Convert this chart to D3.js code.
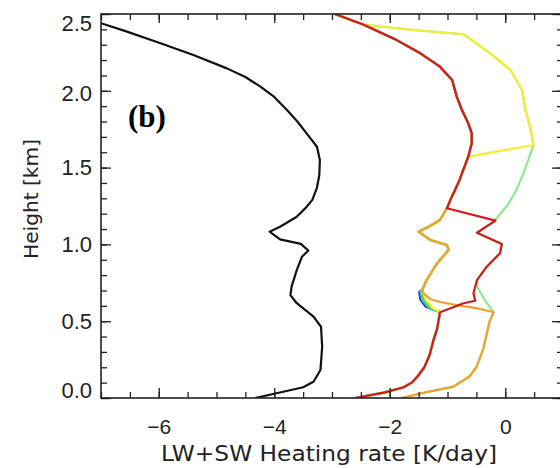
<!DOCTYPE html>
<html>
<head>
<meta charset="utf-8">
<script src="https://cdn.jsdelivr.net/npm/d3@7"></script>
<style>
  body { margin: 0; background: #fff; }
  svg { display: block; font-family: 'DejaVu Sans', sans-serif; }
</style>
</head>
<body>
<svg id="chart" width="560" height="468"></svg>
<script>
// points are [heating rate K/day, height km]

// total heating profile (black)
const blackProfile = [
  [-7.0, 2.44], [-6.55, 2.385], [-5.97, 2.31], [-5.40, 2.233], [-4.82, 2.146],
  [-4.50, 2.09], [-4.24, 2.027], [-4.0, 1.96], [-3.78, 1.875], [-3.60, 1.80],
  [-3.44, 1.723], [-3.26, 1.636], [-3.21, 1.55], [-3.22, 1.45], [-3.26, 1.37],
  [-3.34, 1.29], [-3.45, 1.24], [-3.61, 1.18], [-3.90, 1.115], [-4.08, 1.083],
  [-3.90, 1.033], [-3.54, 1.003], [-3.41, 0.96], [-3.52, 0.92], [-3.61, 0.833],
  [-3.70, 0.725], [-3.72, 0.67], [-3.61, 0.617], [-3.32, 0.53], [-3.19, 0.464],
  [-3.17, 0.334], [-3.20, 0.182], [-3.32, 0.106], [-3.50, 0.07], [-3.96, 0.031],
  [-4.33, 0.0]
]

// pieces shared by the coloured profiles
const upperPath = [
  [-2.95, 2.5], [-2.45, 2.43], [-1.88, 2.33], [-1.47, 2.244], [-1.13, 2.157],
  [-0.92, 2.07], [-0.84, 1.962], [-0.75, 1.875], [-0.64, 1.788], [-0.58, 1.723],
  [-0.58, 1.658], [-0.64, 1.571], [-0.75, 1.463], [-0.79, 1.42], [-0.87, 1.354],
  [-0.95, 1.29], [-1.01, 1.235]
]
const yellowArc = [
  [-1.59, 2.396], [-0.72, 2.368], [-0.26, 2.244], [0.09, 2.135], [0.29, 2.005],
  [0.35, 1.875], [0.43, 1.766], [0.49, 1.647]
]
const greenDescent = [[0.40, 1.55], [0.30, 1.45], [0.20, 1.36], [0.05, 1.26], [-0.17, 1.16]]
const rightZigzag = [
  [-0.17, 1.155], [-0.49, 1.076], [-0.06, 1.003], [-0.09, 0.942], [-0.32, 0.855], [-0.49, 0.768]
]
const redLink = [[-0.55, 0.682], [-0.52, 0.633], [-0.72, 0.617]]
const greenLink = [[-0.48, 0.72], [-0.36, 0.64]]
const leftZigzag = [
  [-1.13, 1.159], [-1.33, 1.115], [-1.50, 1.083], [-1.30, 1.029], [-1.01, 0.996],
  [-0.98, 0.964], [-1.18, 0.877], [-1.36, 0.768], [-1.44, 0.703]
]
const blueFan = [[-1.49, 0.69], [-1.47, 0.64], [-1.38, 0.595]]
const cyanFan = [[-1.47, 0.69], [-1.43, 0.635], [-1.33, 0.59]]
const limeFan = [[-1.45, 0.69], [-1.40, 0.635], [-1.29, 0.588]]
const yellowFan = [[-1.43, 0.69], [-1.37, 0.635], [-1.25, 0.585]]
const orangeBranch = [[-1.41, 0.68], [-1.30, 0.645], [-1.13, 0.625], [-0.84, 0.605], [-0.5, 0.585]]
const lowerLeft = [
  [-1.13, 0.558], [-1.18, 0.45], [-1.24, 0.38], [-1.31, 0.28], [-1.40, 0.20],
  [-1.52, 0.14], [-1.62, 0.10], [-1.76, 0.07], [-2.1, 0.035], [-2.6, 0.0]
]
const lowerRight = [
  [-0.2, 0.558], [-0.27, 0.50], [-0.33, 0.40], [-0.38, 0.32], [-0.5, 0.2],
  [-0.62, 0.14], [-0.9, 0.074], [-1.4, 0.035], [-1.8, 0.0]
]

const xMajorTicks = [-6, -4, -2, 0]
const yMajorTicks = [0, 0.5, 1.0, 1.5, 2.0, 2.5]

// profiles, drawn bottom to top
const profiles = [
  { color: '#2440c8', points: [...upperPath, ...leftZigzag, ...blueFan, ...lowerLeft] },
  { color: '#38c4e6', points: [...upperPath, ...leftZigzag, ...cyanFan, ...lowerLeft] },
  { color: '#5fd04a', points: [...upperPath, ...leftZigzag, ...limeFan, ...lowerLeft] },
  { color: '#8fe890', points: [...upperPath.slice(0, 2), ...yellowArc, ...greenDescent, ...rightZigzag, ...greenLink, ...lowerRight] },
  { color: '#f4ee2c', points: [...upperPath.slice(0, 2), ...yellowArc, ...upperPath.slice(11), ...leftZigzag, ...yellowFan, ...lowerLeft] },
  { color: '#f0a230', points: [...upperPath, ...leftZigzag, ...orangeBranch, ...lowerRight] },
  { color: '#cf1d1d', points: [...upperPath, ...rightZigzag, ...redLink, ...lowerLeft] }
]

const svg = d3.select('#chart')
const plotLeft = 101
const plotRight = 563
const plotTop = 14
const plotBottom = 398

const x = d3.scaleLinear().domain([-7, 1]).range([plotLeft, plotRight])
const y = d3.scaleLinear().domain([0, 2.5]).range([plotBottom, plotTop])

svg.append('defs').append('clipPath').attr('id', 'plot')
  .append('rect')
  .attr('x', plotLeft).attr('y', plotTop)
  .attr('width', plotRight - plotLeft).attr('height', plotBottom - plotTop)

const line = d3.line().x(d => x(d[0])).y(d => y(d[1]))

const lines = svg.append('g').attr('clip-path', 'url(#plot)')

lines.append('path')
  .datum(blackProfile)
  .attr('d', line)
  .attr('fill', 'none')
  .attr('stroke', '#111')
  .attr('stroke-width', 2.2)
  .attr('stroke-linejoin', 'round')

lines.selectAll('.profile')
  .data(profiles)
  .enter().append('path')
  .attr('class', 'profile')
  .attr('d', d => line(d.points))
  .attr('fill', 'none')
  .attr('stroke', d => d.color)
  .attr('stroke-width', 2.2)
  .attr('stroke-linejoin', 'round')

// axes: ticks point inward
const xMinor = d3.range(-7, 1.01, 0.5)
const yMinor = d3.range(0, 2.51, 0.1)

function addAxis (axis, transform, cls) {
  const g = svg.append('g').attr('class', cls).attr('transform', transform).call(axis)
  g.select('.domain').remove()
  g.selectAll('line').attr('stroke', '#222').attr('stroke-width', 1.3)
  return g
}

addAxis(d3.axisBottom(x).tickValues(xMinor).tickSize(-6).tickFormat(''), `translate(0,${plotBottom})`, 'xminor')
addAxis(d3.axisTop(x).tickValues(xMinor).tickSize(-6).tickFormat(''), `translate(0,${plotTop})`, 'xminor-top')
addAxis(d3.axisTop(x).tickValues(xMajorTicks).tickSize(-9).tickFormat(''), `translate(0,${plotTop})`, 'xmajor-top')
addAxis(d3.axisLeft(y).tickValues(yMinor).tickSize(-6).tickFormat(''), `translate(${plotLeft},0)`, 'yminor')
addAxis(d3.axisRight(y).tickValues(yMinor).tickSize(-6).tickFormat(''), `translate(${plotRight},0)`, 'yminor-right')
addAxis(d3.axisRight(y).tickValues(yMajorTicks).tickSize(-11).tickFormat(''), `translate(${plotRight},0)`, 'ymajor-right')

const xAxis = addAxis(
  d3.axisBottom(x).tickValues(xMajorTicks).tickSize(-10).tickPadding(21).tickFormat(d3.format('d')),
  `translate(0,${plotBottom})`, 'xmajor')
xAxis.selectAll('text')
  .attr('fill', '#222')
  .style('font-size', '21px')

const yShift = { 2.5: 9, 2.0: 3, 0: -8 }
const yAxis = addAxis(
  d3.axisLeft(y).tickValues(yMajorTicks).tickSize(-10).tickPadding(9).tickFormat(d3.format('.1f')),
  `translate(${plotLeft},0)`, 'ymajor')
yAxis.selectAll('text')
  .attr('fill', '#222')
  .attr('y', d => yShift[d] || 0)
  .style('font-size', '22px')

svg.append('rect')
  .attr('x', plotLeft).attr('y', plotTop)
  .attr('width', plotRight - plotLeft).attr('height', plotBottom - plotTop)
  .attr('fill', 'none')
  .attr('stroke', '#222')
  .attr('stroke-width', 1.6)

svg.append('text')
  .attr('x', 329)
  .attr('y', 461)
  .attr('text-anchor', 'middle')
  .attr('fill', '#222')
  .attr('textLength', 336)
  .attr('lengthAdjust', 'spacingAndGlyphs')
  .style('font-size', '21px')
  .text('LW+SW Heating rate [K/day]')

svg.append('text')
  .attr('transform', 'translate(38,199) rotate(-90)')
  .attr('text-anchor', 'middle')
  .attr('fill', '#222')
  .attr('textLength', 120)
  .attr('lengthAdjust', 'spacingAndGlyphs')
  .style('font-size', '20px')
  .text('Height [km]')

svg.append('text')
  .attr('x', 128)
  .attr('y', 127)
  .attr('fill', '#000')
  .style('font-family', "'Liberation Serif', 'DejaVu Serif', serif")
  .style('font-weight', 'bold')
  .style('font-size', '31px')
  .text('(b)')
</script>
</body>
</html>
